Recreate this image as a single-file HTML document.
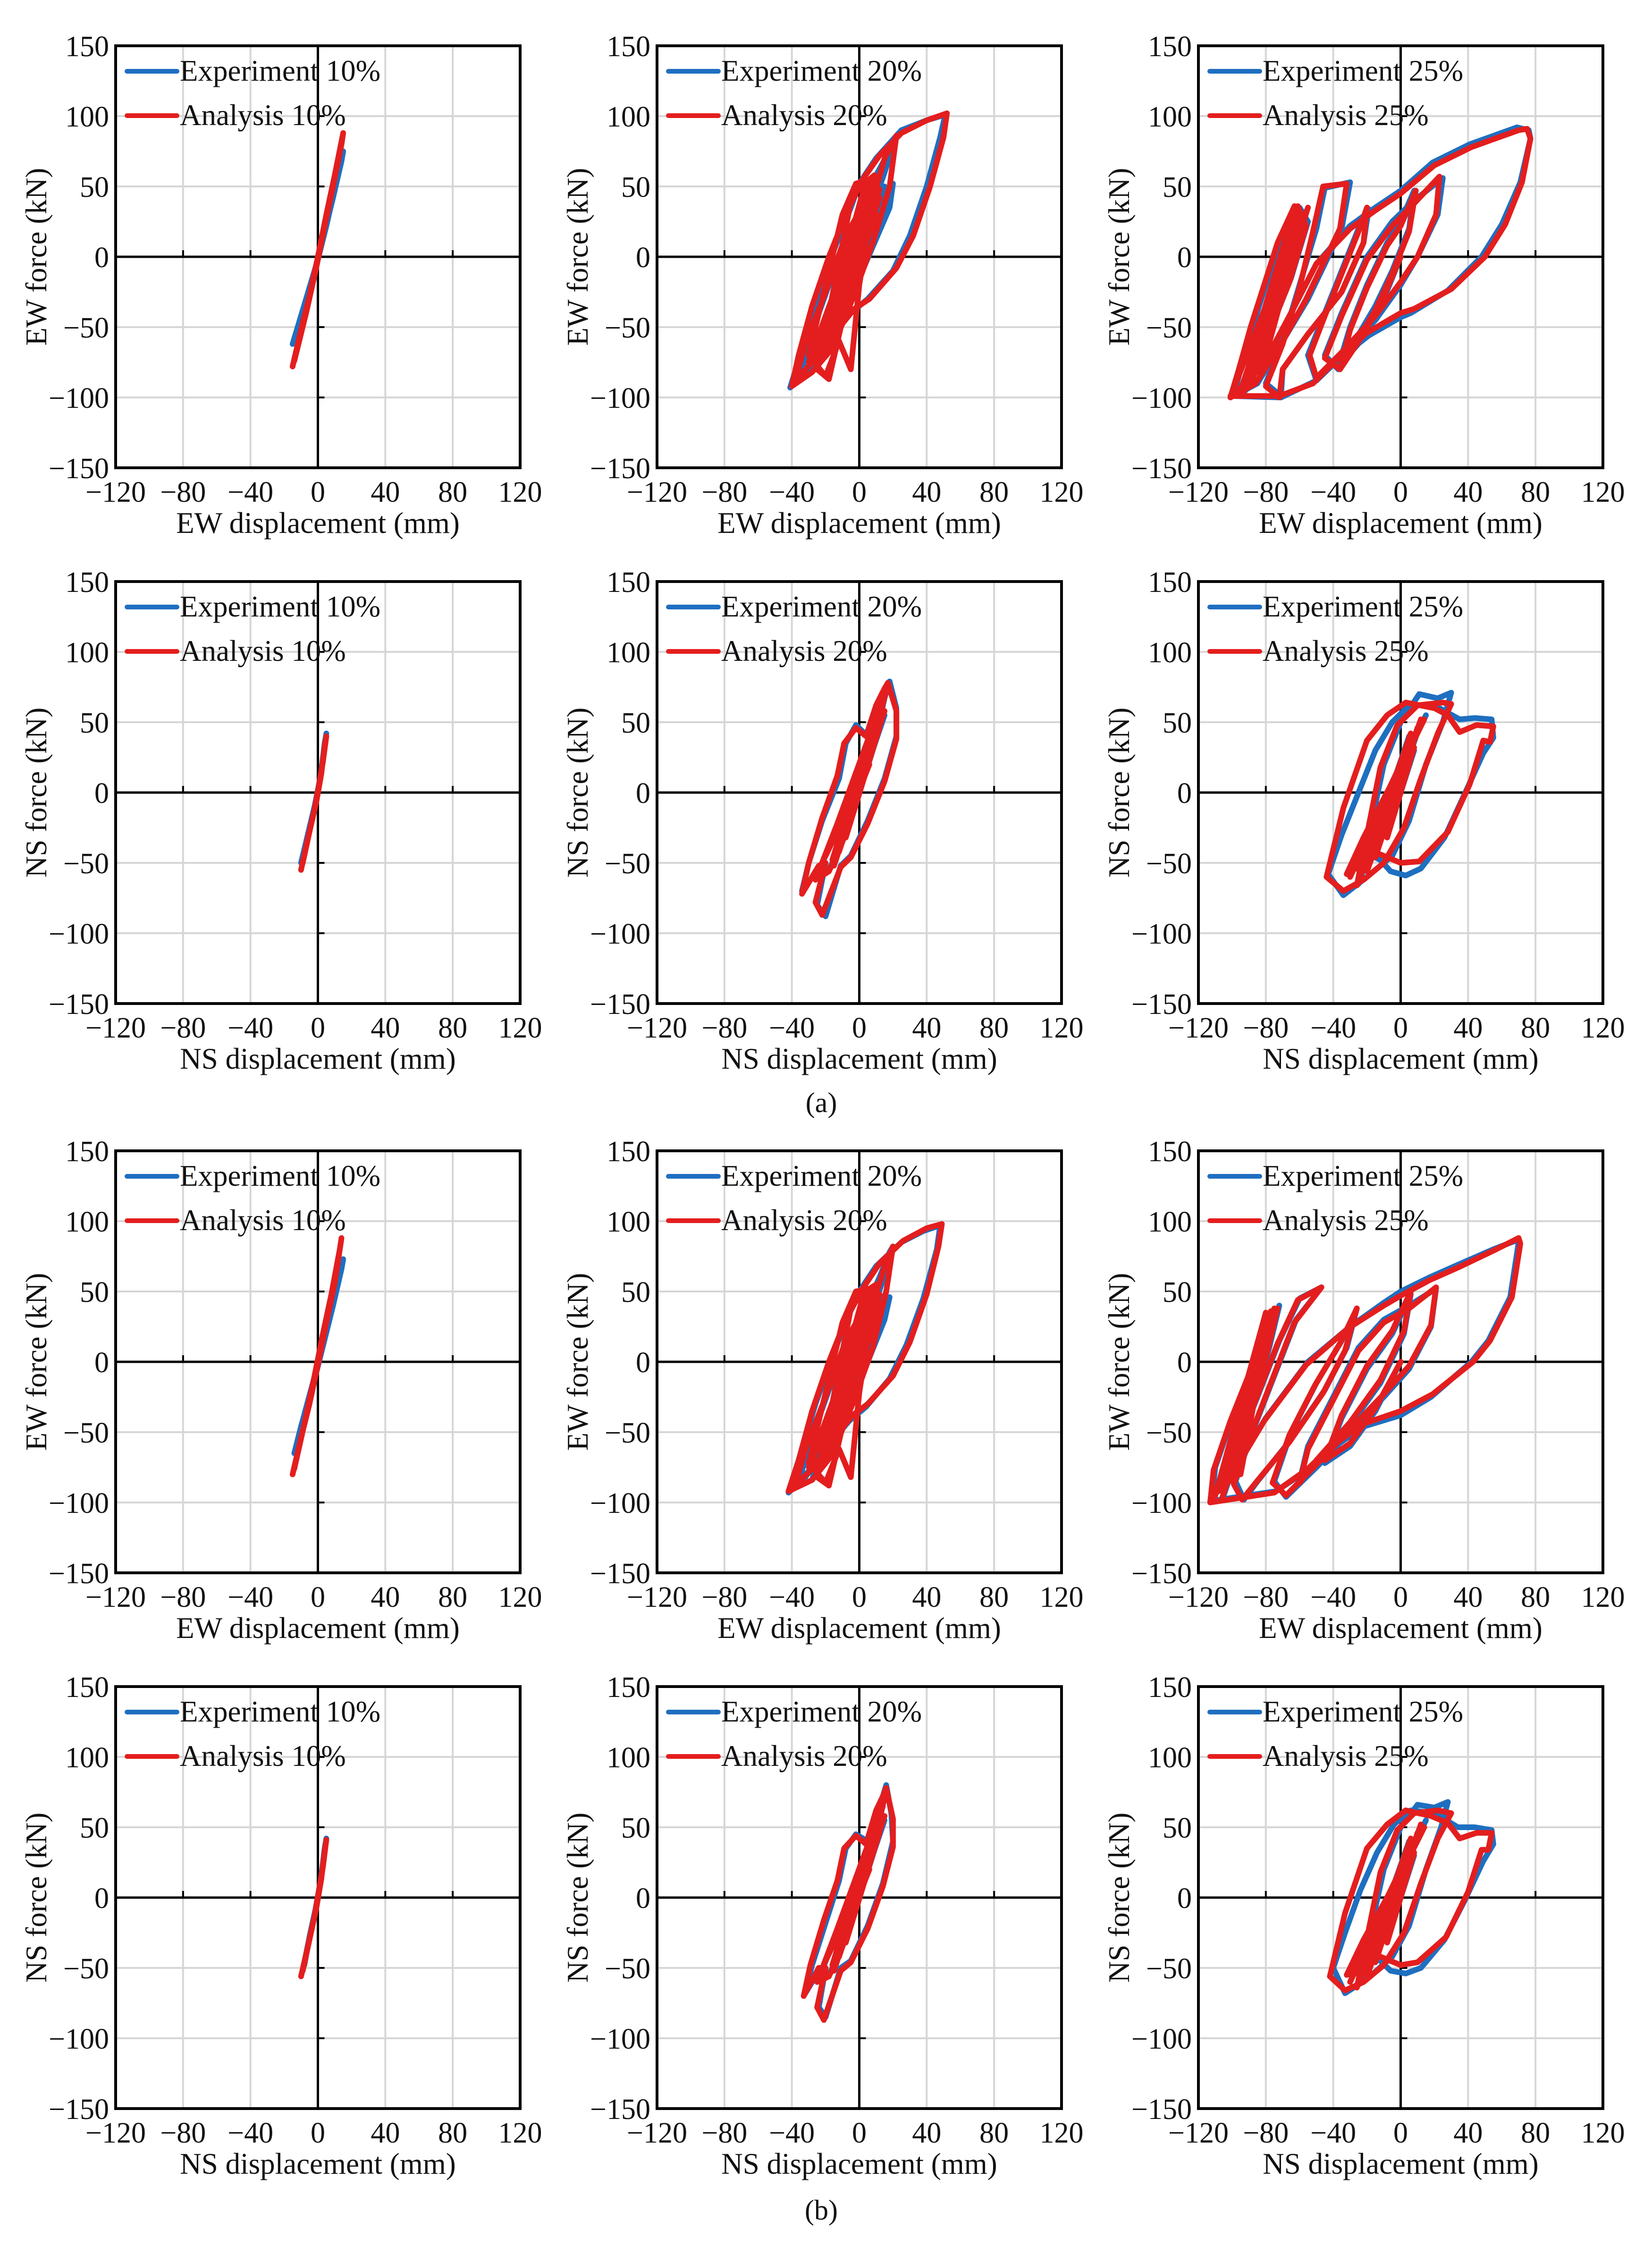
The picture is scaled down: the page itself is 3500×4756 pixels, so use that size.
<!DOCTYPE html>
<html><head><meta charset="utf-8">
<style>
html,body{margin:0;padding:0;background:#fff;}
svg{display:block;}
text{font-family:"Liberation Serif",serif;fill:#111;}
</style></head>
<body>
<svg id="fig" width="3500" height="4756" viewBox="0 0 3500 4756" xmlns="http://www.w3.org/2000/svg">
<rect x="0" y="0" width="3500" height="4756" fill="#ffffff"/>
</svg>
<script>
// ---- axis data ----
const xTicks = [-120, -80, -40, 0, 40, 80, 120];
const yTicks = [-150, -100, -50, 0, 50, 100, 150];
const levels = ["10%", "20%", "25%"];
const rowDirs = ["EW", "NS", "EW", "NS"];

// ---- series data [displacement mm, force kN] ----
const ewExp10a = [[-15,-62],[-10,-42],[-5,-22],[0,-2],[5,22],[10,48],[15,75],[14,68],[9,42],[4,18],[-1,-6],[-7,-32],[-14,-60]];
const ewAna10a = [[-15,-78],[-10,-52],[-5,-28],[0,0],[5,30],[10,58],[15,88],[14,80],[9,50],[4,22],[-1,-8],[-7,-40],[-14,-74]];
const ewExp20a = [[-2,0],[5,20],[-5,-20],[8,30],[-8,-35],[12,40],[-12,-45],[15,50],[-15,-55],[20,52],[18,35],[0,-15],[-20,-65],[-25,-75],[-28,-82],[-20,-50],[-10,-10],[0,25],[5,45],[10,58],[20,80],[22,86],[15,60],[5,25],[-5,-20],[-18,-60],[-30,-80],[-41,-93],[-35,-70],[-25,-30],[-15,5],[-5,35],[0,52],[10,70],[25,90],[40,97],[51,101],[48,85],[40,50],[30,15],[20,-10],[5,-30],[-5,-40],[-15,-55],[-25,-70],[-35,-85],[-30,-60],[-18,-20],[-5,20],[5,35],[-28,-75],[3,40],[-25,-70],[6,45]];
const ewAna20a = [[0,0],[6,25],[-6,-25],[9,35],[-9,-40],[12,48],[-14,-50],[9,58],[-4,45],[-18,-40],[-25,-80],[-18,-87],[-10,-45],[0,10],[6,55],[-2,52],[-10,30],[-20,-20],[-30,-70],[-20,-85],[-12,-60],[-5,-80],[0,-20],[8,40],[15,70],[22,86],[18,50],[8,10],[-4,-30],[-16,-65],[-28,-82],[-40,-92],[-36,-70],[-28,-35],[-18,0],[-8,30],[2,55],[12,72],[25,88],[40,97],[52,102],[50,85],[42,50],[32,15],[22,-8],[6,-30],[-3,-37],[-15,-55],[-28,-75],[-38,-88],[-32,-62],[-20,-25],[-8,15],[4,40],[-5,-20],[10,30],[-10,-30],[-30,-75],[5,40],[-28,-70],[8,45],[-25,-78],[3,50],[-22,-60],[10,48],[-20,-70],[0,30],[-15,-55],[12,42],[-24,-72],[2,38],[-18,-62],[6,46]];
const ewExp25a = [[0,0],[-10,-30],[-20,-55],[-37,-78],[-30,-50],[-20,-20],[-8,10],[0,25],[8,47],[5,20],[-5,-10],[-15,-35],[-37,-80],[-45,-70],[-35,-40],[-20,0],[-5,25],[8,40],[25,56],[22,30],[10,0],[0,-20],[-15,-45],[-35,-70],[-50,-88],[-55,-70],[-45,-40],[-35,-10],[-25,20],[-19,34],[-22,10],[-35,-25],[-55,-55],[-70,-80],[-71,-99],[-80,-90],[-70,-60],[-60,-20],[-50,20],[-45,49],[-30,53],[-35,20],[-45,-5],[-55,-30],[-70,-60],[-85,-90],[-99,-99],[-95,-80],[-88,-50],[-80,-20],[-72,10],[-62,35],[-58,20],[-65,-10],[-78,-50],[-92,-95],[-88,-70],[-78,-30],[-68,10],[-60,35],[-55,25],[-65,-15],[-80,-60],[-95,-98],[-99,-99],[-80,-75],[-65,-40],[-50,-5],[-30,22],[-15,35],[0,47],[19,67],[41,80],[69,92],[76,90],[77,84],[71,53],[60,23],[48,0],[28,-24],[6,-40],[0,-43],[-19,-56],[-37,-73],[-50,-88],[-71,-100],[-99,-99]];
const ewAna25a = [[0,0],[-10,-28],[-22,-55],[-36,-80],[-30,-52],[-20,-22],[-8,8],[0,22],[9,47],[5,18],[-5,-12],[-15,-38],[-36,-80],[-45,-72],[-35,-42],[-20,-2],[-5,22],[8,38],[23,57],[21,30],[10,0],[0,-18],[-15,-42],[-35,-68],[-50,-86],[-54,-70],[-45,-42],[-35,-12],[-25,18],[-20,35],[-22,10],[-35,-25],[-55,-55],[-70,-80],[-72,-100],[-80,-92],[-70,-62],[-60,-22],[-52,18],[-46,50],[-32,52],[-36,20],[-46,-5],[-56,-30],[-70,-60],[-86,-90],[-101,-100],[-96,-80],[-89,-50],[-81,-20],[-73,10],[-63,36],[-58,18],[-66,-12],[-79,-52],[-93,-96],[-89,-70],[-79,-30],[-69,10],[-61,36],[-56,22],[-66,-18],[-81,-62],[-96,-99],[-95,-95],[-60,30],[-90,-90],[-58,25],[-85,-80],[-55,35],[-92,-85],[-62,20],[-80,-70],[-57,30],[-88,-88],[-64,15],[-101,-100],[-82,-78],[-66,-42],[-50,-5],[-30,20],[-15,33],[0,45],[20,65],[42,78],[70,90],[75,91],[77,84],[72,53],[62,23],[50,0],[30,-23],[8,-37],[0,-40],[-20,-54],[-38,-73],[-52,-90],[-72,-99],[-101,-99]];
const nsExp10a = [[-10,-50],[-6,-30],[-2,-10],[1,8],[3,22],[5,42],[4,35],[2,15],[-1,-5],[-5,-25],[-9,-46]];
const nsAna10a = [[-10,-55],[-6,-33],[-2,-12],[1,8],[3,22],[5,40],[4,33],[2,13],[-1,-7],[-5,-28],[-9,-50]];
const nsExp20a = [[0,0],[8,30],[-8,-30],[12,45],[-12,-40],[15,55],[-15,-50],[18,79],[22,60],[22,40],[15,10],[5,-20],[-5,-45],[-11,-52],[-20,-88],[-25,-80],[-20,-50],[-23,-52],[-34,-70],[-30,-50],[-22,-20],[-12,10],[-8,35],[-2,48],[5,40],[10,60],[14,70],[17,78],[10,40],[0,0],[-10,-35],[-18,-55],[-25,-60],[-12,-20],[0,15],[10,45]];
const nsAna20a = [[0,0],[8,32],[-8,-32],[12,46],[-12,-42],[15,58],[-15,-52],[17,78],[22,58],[22,38],[15,8],[5,-22],[-5,-46],[-11,-53],[-22,-87],[-26,-78],[-20,-50],[-24,-52],[-34,-72],[-30,-50],[-22,-18],[-13,12],[-9,35],[-2,46],[4,40],[10,62],[15,74],[17,78],[9,38],[-1,-2],[-11,-38],[-18,-56],[-26,-62],[-13,-22],[1,16],[11,46],[-4,-10],[6,20],[-20,-45],[12,60],[-18,-40],[14,65],[-15,-50],[10,55],[-12,-30],[15,70],[-16,-48],[8,45]];
const nsExp25a = [[0,0],[8,30],[-8,-30],[10,45],[-15,-45],[12,50],[-20,-55],[5,40],[-25,-65],[-10,20],[0,50],[11,70],[22,67],[30,71],[25,50],[15,20],[5,-20],[-5,-45],[-20,-60],[-34,-73],[-43,-58],[-35,-30],[-25,0],[-15,30],[-5,50],[5,62],[20,62],[35,52],[44,53],[54,52],[55,39],[49,28],[38,-1],[26,-32],[12,-54],[3,-59],[-6,-56],[-12,-48],[-25,-40],[-30,-55],[-20,-30],[-8,0],[5,30],[15,55]];
const nsAna25a = [[0,0],[8,32],[-8,-32],[10,46],[-15,-46],[12,52],[-20,-56],[6,42],[-26,-66],[-12,18],[-2,48],[10,62],[25,64],[30,63],[22,42],[12,10],[2,-25],[-10,-50],[-22,-62],[-34,-70],[-44,-60],[-34,-11],[-20,37],[-8,55],[3,64],[20,60],[28,55],[35,43],[45,48],[55,47],[53,36],[49,37],[41,6],[28,-28],[11,-49],[0,-50],[-12,-44],[-25,-42],[-32,-58],[-22,-32],[-9,-2],[4,28],[14,52],[-30,-55],[8,40],[-28,-50],[10,45],[-25,-55],[6,35],[-22,-45],[12,50],[-30,-60],[5,30]];

const ewExp10b = [[-14,-65],[-10,-46],[-5,-24],[0,-2],[5,22],[10,46],[15,73],[14,66],[9,40],[4,16],[-1,-8],[-7,-34],[-13,-62]];
const ewAna10b = [[-15,-80],[-10,-54],[-5,-30],[0,-2],[5,28],[10,56],[14,88],[13,80],[8,48],[3,20],[-2,-10],[-8,-44],[-14,-76]];
const ewExp20b = [[0,0],[6,22],[-6,-24],[9,34],[-10,-38],[12,44],[-14,-50],[16,50],[-16,-56],[18,46],[15,30],[0,-15],[-20,-66],[-26,-78],[-28,-84],[-20,-52],[-10,-12],[0,24],[6,44],[12,60],[18,78],[20,82],[14,58],[4,22],[-6,-22],[-20,-62],[-32,-82],[-42,-93],[-36,-70],[-26,-30],[-16,4],[-6,34],[0,50],[10,68],[25,85],[38,93],[48,97],[46,80],[38,45],[28,12],[18,-12],[4,-32],[-6,-42],[-16,-56],[-26,-72],[-36,-86],[-30,-60],[-18,-20],[-5,18],[5,34],[-28,-75],[3,40],[-25,-70],[6,45]];
const ewAna20b = [[0,0],[6,26],[-6,-26],[9,36],[-9,-40],[12,48],[-14,-52],[10,55],[-4,44],[-18,-42],[-25,-82],[-18,-88],[-10,-46],[0,8],[6,52],[-2,50],[-10,28],[-20,-22],[-30,-72],[-20,-86],[-12,-62],[-5,-82],[0,-22],[8,40],[15,68],[20,82],[16,50],[8,10],[-4,-30],[-16,-66],[-28,-84],[-42,-92],[-36,-70],[-28,-35],[-18,0],[-8,30],[2,52],[12,70],[26,86],[40,95],[49,98],[47,82],[40,48],[30,14],[20,-10],[5,-30],[-4,-38],[-16,-56],[-28,-76],[-38,-88],[-32,-62],[-20,-25],[-8,15],[4,40],[-5,-20],[10,30],[-30,-75],[5,40],[-28,-70],[8,45],[-25,-78],[3,50],[-22,-60],[10,48],[-20,-70],[0,30],[-15,-55],[12,42],[-24,-72],[2,38]];
const ewExp25b = [[0,0],[-15,-35],[-30,-60],[-45,-72],[-35,-40],[-20,-5],[-5,20],[6,48],[2,20],[-12,-15],[-30,-45],[-50,-72],[-60,-85],[-55,-60],[-40,-25],[-25,10],[-10,30],[5,40],[21,52],[18,25],[5,-5],[-10,-25],[-30,-50],[-50,-75],[-68,-96],[-75,-85],[-65,-50],[-50,-15],[-35,15],[-26,38],[-32,10],[-45,-20],[-65,-55],[-85,-85],[-93,-98],[-98,-85],[-88,-50],[-75,-10],[-62,30],[-47,53],[-60,45],[-72,15],[-85,-25],[-100,-70],[-112,-98],[-110,-75],[-100,-40],[-90,-10],[-80,20],[-72,40],[-78,10],[-90,-40],[-105,-95],[-98,-70],[-88,-30],[-80,10],[-76,35],[-85,-10],[-100,-70],[-113,-99],[-95,-70],[-80,-40],[-55,0],[-30,25],[-10,42],[0,50],[17,60],[34,69],[55,80],[68,86],[70,85],[65,46],[52,15],[42,0],[18,-25],[0,-38],[-22,-46],[-40,-61],[-54,-76],[-74,-92],[-113,-99]];
const ewAna25b = [[0,0],[-15,-33],[-30,-58],[-45,-70],[-35,-38],[-20,-3],[-5,22],[6,50],[2,22],[-12,-13],[-30,-43],[-50,-70],[-60,-86],[-55,-62],[-40,-27],[-25,8],[-10,28],[5,38],[21,53],[18,26],[5,-3],[-10,-23],[-30,-48],[-50,-73],[-68,-95],[-76,-86],[-66,-52],[-51,-17],[-36,13],[-26,38],[-33,8],[-46,-22],[-66,-57],[-86,-86],[-94,-98],[-99,-87],[-89,-52],[-76,-12],[-63,28],[-47,53],[-61,44],[-73,13],[-86,-27],[-101,-72],[-113,-100],[-111,-77],[-101,-42],[-91,-12],[-81,18],[-73,38],[-79,8],[-91,-42],[-106,-97],[-99,-72],[-89,-32],[-81,8],[-77,36],[-86,-12],[-101,-72],[-113,-100],[-110,-95],[-80,35],[-105,-90],[-78,30],[-100,-85],[-75,38],[-108,-92],[-82,25],[-95,-80],[-77,35],[-96,-72],[-81,-42],[-56,-2],[-31,24],[-10,40],[0,47],[17,58],[34,67],[55,79],[70,88],[71,84],[66,46],[53,15],[43,0],[19,-23],[0,-35],[-22,-44],[-41,-60],[-55,-76],[-75,-93],[-113,-100]];
const nsExp10b = [[-9,-52],[-6,-34],[-2,-12],[1,8],[3,22],[5,42],[4,35],[2,15],[-1,-6],[-5,-28],[-8,-48]];
const nsAna10b = [[-10,-56],[-6,-35],[-2,-13],[1,8],[3,22],[5,41],[4,33],[2,13],[-1,-8],[-5,-30],[-9,-52]];
const nsExp20b = [[0,0],[8,30],[-8,-30],[12,45],[-12,-40],[15,55],[-15,-50],[16,80],[19,60],[20,40],[14,10],[5,-20],[-5,-45],[-11,-50],[-20,-85],[-24,-78],[-20,-50],[-23,-50],[-32,-68],[-28,-48],[-20,-18],[-12,12],[-8,35],[-2,45],[5,40],[10,60],[14,72],[16,80],[10,40],[0,0],[-10,-35],[-18,-55],[-24,-58],[-12,-20],[0,15],[10,45]];
const nsAna20b = [[0,0],[8,32],[-8,-32],[12,46],[-12,-42],[15,58],[-15,-52],[16,78],[20,56],[20,36],[14,8],[5,-22],[-5,-46],[-11,-52],[-21,-87],[-25,-78],[-20,-50],[-24,-50],[-33,-70],[-29,-48],[-21,-16],[-13,12],[-9,35],[-2,44],[4,38],[10,62],[14,72],[16,78],[9,38],[-1,-2],[-11,-38],[-18,-56],[-25,-60],[-13,-22],[1,16],[11,46],[-4,-10],[6,20],[-20,-45],[12,60],[-18,-40],[14,65],[-15,-50],[10,55],[-12,-30],[15,70],[-16,-48],[8,45]];
const nsExp25b = [[0,0],[8,30],[-8,-30],[10,45],[-15,-45],[12,50],[-20,-55],[5,40],[-25,-62],[-10,20],[0,50],[10,66],[20,64],[28,68],[24,50],[15,20],[5,-20],[-5,-42],[-20,-58],[-33,-68],[-40,-50],[-33,-25],[-24,5],[-14,32],[-4,52],[6,62],[20,60],[34,50],[44,50],[54,48],[55,38],[49,26],[38,-2],[26,-30],[12,-50],[3,-54],[-6,-52],[-12,-45],[-25,-38],[-30,-52],[-20,-30],[-8,0],[5,30],[15,55]];
const nsAna25b = [[0,0],[8,32],[-8,-32],[10,46],[-15,-46],[12,52],[-20,-56],[6,42],[-26,-64],[-12,18],[-2,48],[8,60],[22,62],[30,60],[22,42],[12,10],[2,-25],[-10,-48],[-22,-60],[-33,-66],[-42,-56],[-33,-11],[-20,35],[-8,52],[3,62],[18,58],[28,53],[35,42],[45,46],[54,46],[52,34],[48,34],[40,4],[27,-28],[10,-46],[0,-48],[-12,-42],[-25,-40],[-32,-55],[-22,-30],[-9,-2],[4,28],[14,50],[-30,-55],[8,40],[-28,-50],[10,45],[-25,-55],[6,35],[-22,-45],[12,50],[-30,-60],[5,30]];

const expSeries = [[ewExp10a, ewExp20a, ewExp25a],[nsExp10a, nsExp20a, nsExp25a],[ewExp10b, ewExp20b, ewExp25b],[nsExp10b, nsExp20b, nsExp25b]];
const anaSeries = [[ewAna10a, ewAna20a, ewAna25a],[nsAna10a, nsAna20a, nsAna25a],[ewAna10b, ewAna20b, ewAna25b],[nsAna10b, nsAna20b, nsAna25b]];

// ---- layout ----
const colLeft = [245, 1392, 2539];
const rowTop = [97, 1232, 2438, 3573];
const PW = 857, PH = 894;
const NS = "http://www.w3.org/2000/svg";
const svg = document.getElementById("fig");

function mk(tag, attrs, parent) {
  const e = document.createElementNS(NS, tag);
  for (const k in attrs) e.setAttribute(k, attrs[k]);
  (parent || svg).appendChild(e);
  return e;
}
function fmt(v) { return v < 0 ? "\u2212" + Math.abs(v) : String(v); }

for (let r = 0; r < 4; r++) {
  for (let c = 0; c < 3; c++) {
    const L = colLeft[c], T = rowTop[r];
    const sx = v => L + (v + 120) / 240 * PW;
    const sy = v => T + (150 - v) / 300 * PH;
    const g = mk("g", {});
    
    
    xTicks.forEach(t => {
      if (t === 0 || t === -120 || t === 120) return;
      const l = mk("line", { x1: sx(t), x2: sx(t), y1: T, y2: T + PH, stroke: "#d6d6d6", "stroke-width": 4 }, g);
      
      
    });
    yTicks.forEach(t => {
      if (t === 0 || t === -150 || t === 150) return;
      const l = mk("line", { x1: L, x2: L + PW, y1: sy(t), y2: sy(t), stroke: "#d6d6d6", "stroke-width": 4 }, g);
      
      
    });
    const ax = mk("line", { x1: L, x2: L + PW, y1: sy(0), y2: sy(0), stroke: "#000", "stroke-width": 5 }, g);
    
    
    const ay = mk("line", { x1: sx(0), x2: sx(0), y1: T, y2: T + PH, stroke: "#000", "stroke-width": 5 }, g);
    
    
    xTicks.forEach(t => {
      if (t === 0 || Math.abs(t) === 120) return;
      const k = mk("line", { x1: sx(t), x2: sx(t), y1: sy(0), y2: sy(0) - 14, stroke: "#000", "stroke-width": 4 }, g);
      
      
    });
    yTicks.forEach(t => {
      if (t === 0 || Math.abs(t) === 150) return;
      const k = mk("line", { x1: sx(0), x2: sx(0) + 14, y1: sy(t), y2: sy(t), stroke: "#000", "stroke-width": 4 }, g);
      
      
    });
    const toPts = arr => arr.map(p => sx(p[0]).toFixed(1) + "," + sy(p[1]).toFixed(1)).join(" ");
    const pe = mk("polyline", { points: toPts(expSeries[r][c]), fill: "none", stroke: "#1f6fc0", "stroke-width": 12, "stroke-linejoin": "round", "stroke-linecap": "round" }, g);
    
    
    const pa = mk("polyline", { points: toPts(anaSeries[r][c]), fill: "none", stroke: "#e41e1e", "stroke-width": 12, "stroke-linejoin": "round", "stroke-linecap": "round" }, g);
    
    
    const fr = mk("rect", { x: L, y: T, width: PW, height: PH, fill: "none", stroke: "#000", "stroke-width": 6 }, g);
    
    
    xTicks.forEach(t => {
      const tx = mk("text", { x: sx(t), y: T + PH + 72, "font-size": 62, "text-anchor": "middle" }, g);
      tx.textContent = fmt(t);
      
      
    });
    yTicks.forEach(t => {
      const tx = mk("text", { x: L - 14, y: sy(t) + 22, "font-size": 62, "text-anchor": "end" }, g);
      tx.textContent = fmt(t);
      
      
    });
    const xt = mk("text", { x: L + PW / 2, y: T + PH + 138, "font-size": 63, "text-anchor": "middle" }, g);
    xt.textContent = rowDirs[r] + " displacement (mm)";
    
    
    const yx = L - 147, yy = T + PH / 2;
    const yt = mk("text", { x: yx, y: yy, "font-size": 63, "text-anchor": "middle", transform: "rotate(-90 " + yx + " " + yy + ")" }, g);
    yt.textContent = rowDirs[r] + " force (kN)";
    
    
    const le = mk("line", { x1: L + 24, x2: L + 130, y1: T + 54, y2: T + 54, stroke: "#1f6fc0", "stroke-width": 10, "stroke-linecap": "round" }, g);
    
    
    const lt1 = mk("text", { x: L + 136, y: T + 74, "font-size": 63 }, g);
    lt1.textContent = "Experiment " + levels[c];
    
    
    const la = mk("line", { x1: L + 24, x2: L + 130, y1: T + 148, y2: T + 148, stroke: "#e41e1e", "stroke-width": 10, "stroke-linecap": "round" }, g);
    
    
    const lt2 = mk("text", { x: L + 136, y: T + 168, "font-size": 63 }, g);
    lt2.textContent = "Analysis " + levels[c];
    
    
  }
}
const capA = mk("text", { x: 1740, y: 2356, "font-size": 60, "text-anchor": "middle" });
capA.textContent = "(a)";


const capB = mk("text", { x: 1740, y: 4702, "font-size": 60, "text-anchor": "middle" });
capB.textContent = "(b)";


</script>
</body></html>
